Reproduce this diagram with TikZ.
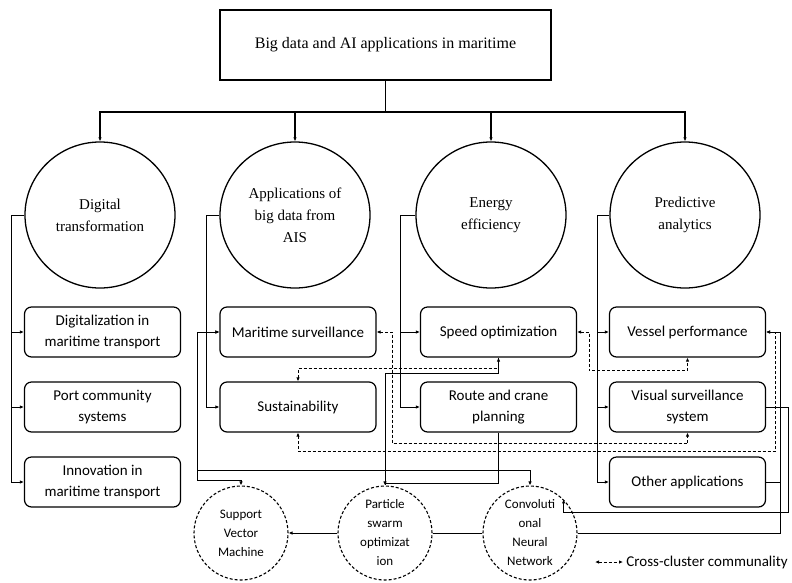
\documentclass[tikz,border=0pt]{standalone}
\usepackage{fontspec}
\setmainfont{Liberation Serif}
\setsansfont{Carlito}
\usetikzlibrary{arrows.meta,positioning,shapes.geometric}

\begin{document}
\begin{tikzpicture}[x=1pt,y=1pt,node distance=75pt,on grid,
	>={Latex[length=4pt,width=3.5pt]},
	root/.style={draw,line width=1.4pt,minimum width=331pt,minimum height=70pt,font=\fontsize{16}{20}\selectfont},
	topic/.style={ellipse,draw,line width=1.3pt,minimum width=150pt,minimum height=146pt,inner sep=0pt,align=center,font=\fontsize{15}{22}\selectfont},
	leaf/.style={draw,rounded corners=7pt,line width=1.2pt,minimum width=156pt,minimum height=50pt,inner sep=2pt,align=center,font=\sffamily\fontsize{15}{21}\selectfont},
	method/.style={circle,draw,dash pattern=on 3pt off 2pt,line width=1.1pt,minimum size=94pt,inner sep=0pt,align=center,font=\sffamily\fontsize{13}{19}\selectfont},
	trunk/.style={line width=1.4pt},
	link/.style={line width=0.8pt},
	cross/.style={<->,dash pattern=on 3pt off 2pt,line width=0.8pt}]
	\useasboundingbox (0,0) rectangle (792,-582);

	\node[root] (top) at (385.5,-45) {Big data and AI applications in maritime};
	\coordinate (split) at (385.5,-112);

	\node[topic] (dt) at (100,-215) {Digital\\transformation};
	\node[topic] (ais) at (295,-215) {Applications of\\big data from\\AIS};
	\node[topic] (ee) at (491,-215) {Energy\\efficiency};
	\node[topic] (pa) at (685,-215) {Predictive\\analytics};

	\node[leaf] (b11) at (102.5,-332) {Digitalization in\\maritime transport};
	\node[leaf] (b12) [below=of b11] {Port community\\systems};
	\node[leaf] (b13) [below=of b12] {Innovation in\\maritime transport};
	\node[leaf] (b21) at (298,-332) {Maritime surveillance};
	\node[leaf] (b22) [below=of b21] {Sustainability};
	\node[leaf] (b31) at (498.5,-332) {Speed optimization};
	\node[leaf] (b32) [below=of b31] {Route and crane\\planning};
	\node[leaf] (b41) at (687.5,-332) {Vessel performance};
	\node[leaf] (b42) [below=of b41] {Visual surveillance\\system};
	\node[leaf] (b43) [below=of b42] {Other applications};

	\node[method] (svm) at (241,-533) {Support\\Vector\\Machine};
	\node[method] (pso) at (385,-533) {Particle\\swarm\\optimizat\\ion};
	\node[method] (cnn) at (530,-533) {Convoluti\\onal\\Neural\\Network};

	\coordinate (m1) at (197,-332);
	\coordinate (m2) at (197,-470);
	\coordinate (m3) at (197,-480);
	\coordinate (e1) at (780,-533);
	\coordinate (e2) at (788,-512);

	\draw[trunk] (top) -- (split);
	\foreach \c in {dt,ais,ee,pa}
		\draw[trunk,->] (split) -| (\c);

	\foreach \b in {b11,b12,b13}
		\draw[link,->] (dt.west) -- ++(-13,0) |- (\b.west);
	\foreach \b in {b21,b22}
		\draw[link,->] (ais.west) -- ++(-13,0) |- (\b.west);
	\foreach \b in {b31,b32}
		\draw[link,->] (ee.west) -- ++(-15,0) |- (\b.west);
	\foreach \b in {b41,b42,b43}
		\draw[link,->] (pa.west) -- ++(-12,0) |- (\b.west);

	\draw[link,->] (pso) -- (svm);
	\draw[link] (cnn) -- (pso);
	\draw[link,->] (cnn.east) -- (e1) |- (b41.east);
	\draw[link] (b43.east) -- (b43.east -| e1);
	\draw[link,->] (b42.east) -| (e2) -- (cnn.45 |- e2) -- (cnn.45);
	\draw[link,->] (b31.south) -- ++(0,-16) -| (pso.north);
	\draw[link] (b32.south) -- ++(0,-51) -| (pso.north);
	\draw[link,->] (m1) -- (b21.west);
	\draw[link,->] (m1) -- (m3) -| (svm.north);
	\draw[link,->] (m2) -| (cnn.north);

	\draw[cross] (b21.east) -- ++(16,0) |- ([yshift=-11pt]b42.south) -- (b42.south);
	\draw[cross] (b22.north) -- ++(0,13) -| (b31.south);
	\draw[cross] (b22.south) -- ++(0,-19) -| ([xshift=9pt]b41.east) -- (b41.east);
	\draw[cross] (b31.east) -- ++(12,0) |- ([yshift=-13pt]b41.south) -- (b41.south);

	\coordinate (l1) at (595,-562);
	\draw[cross] (l1) -- ++(28,0) node[right,inner sep=3pt,font=\sffamily\fontsize{15}{18}\selectfont] (legend) {Cross-cluster communality};
\end{tikzpicture}
\end{document}
